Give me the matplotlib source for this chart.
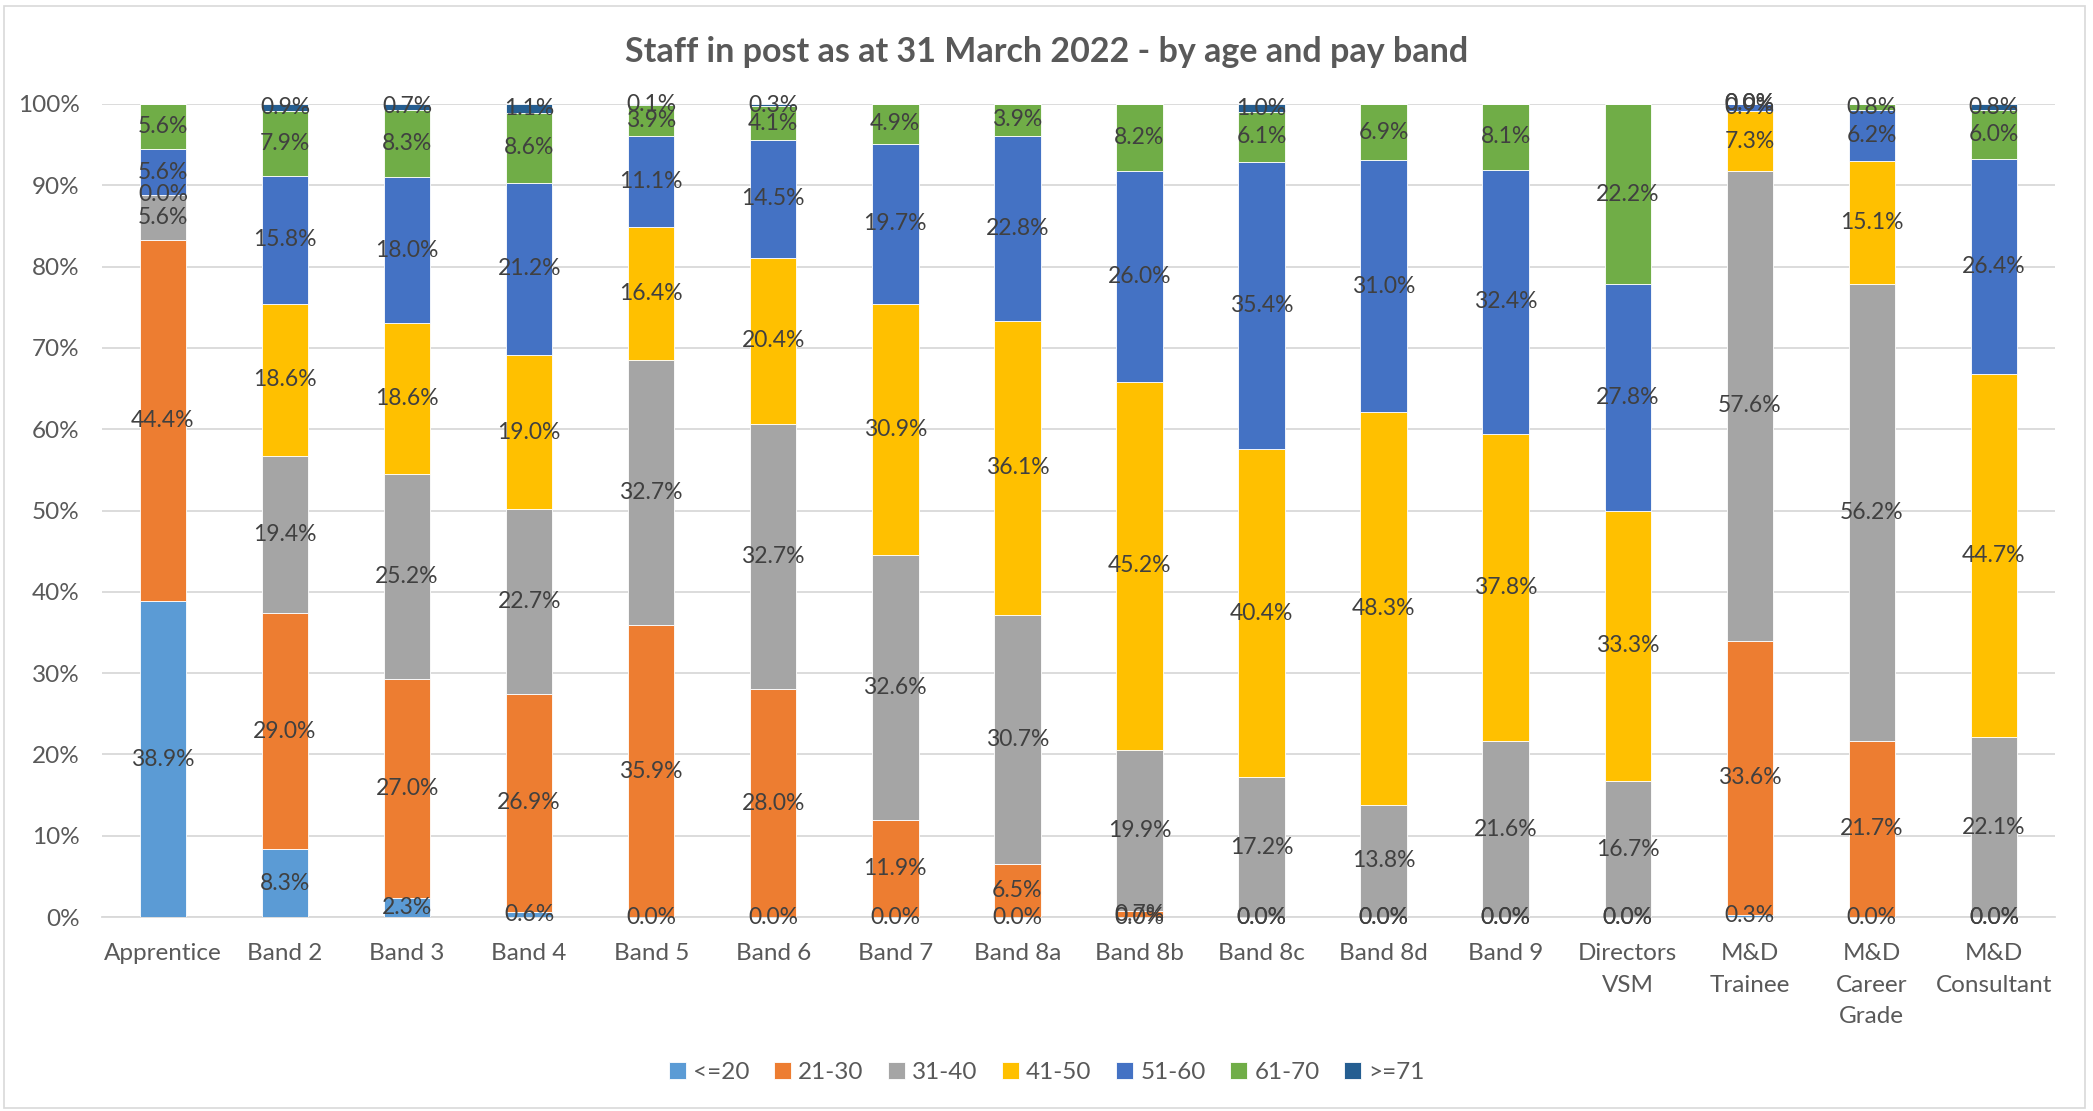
import matplotlib.pyplot as plt
import matplotlib.patches as mpatches
import numpy as np

plt.rcParams['font.family'] = ['Lato', 'DejaVu Sans']

# Pay bands (x axis)
bands = ['Apprentice', 'Band 2', 'Band 3', 'Band 4', 'Band 5', 'Band 6', 'Band 7',
         'Band 8a', 'Band 8b', 'Band 8c', 'Band 8d', 'Band 9', 'Directors\nVSM',
         'M&D\nTrainee', 'M&D\nCareer\nGrade', 'M&D\nConsultant']

# Age groups and their percentages per band (nan = no value shown)
ages = ['<=20', '21-30', '31-40', '41-50', '51-60', '61-70', '>=71']
nan = np.nan
age_le20 = [38.9, 8.3, 2.3, 0.6, 0.0, 0.0, 0.0, 0.0, 0.0, 0.0, 0.0, 0.0, 0.0, 0.3, 0.0, 0.0]
age_21_30 = [44.4, 29.0, 27.0, 26.9, 35.9, 28.0, 11.9, 6.5, 0.7, 0.0, 0.0, 0.0, 0.0, 33.6, 21.7, 0.0]
age_31_40 = [5.6, 19.4, 25.2, 22.7, 32.7, 32.7, 32.6, 30.7, 19.9, 17.2, 13.8, 21.6, 16.7, 57.6, 56.2, 22.1]
age_41_50 = [0.0, 18.6, 18.6, 19.0, 16.4, 20.4, 30.9, 36.1, 45.2, 40.4, 48.3, 37.8, 33.3, 7.3, 15.1, 44.7]
age_51_60 = [5.6, 15.8, 18.0, 21.2, 11.1, 14.5, 19.7, 22.8, 26.0, 35.4, 31.0, 32.4, 27.8, 0.9, 6.2, 26.4]
age_61_70 = [5.6, 7.9, 8.3, 8.6, 3.9, 4.1, 4.9, 3.9, 8.2, 6.1, 6.9, 8.1, 22.2, 0.0, 0.8, 6.0]
age_ge71 = [nan, 0.9, 0.7, 1.1, 0.1, 0.3, nan, nan, nan, 1.0, nan, nan, nan, 0.0, nan, 0.8]

series = [age_le20, age_21_30, age_31_40, age_41_50, age_51_60, age_61_70, age_ge71]
colors = ['#5B9BD5', '#ED7D31', '#A5A5A5', '#FFC000', '#4472C4', '#70AD47', '#255E91']

fig = plt.figure(figsize=(20.93, 11.11), dpi=100)
ax = fig.add_axes([0.0487, 0.1746, 0.9331, 0.7318])

# chart border
fig.patches.append(mpatches.Rectangle((0.002, 0.003), 0.994, 0.992, transform=fig.transFigure,
                                      fill=False, edgecolor='#D9D9D9', linewidth=1.2))

data = np.array(series, dtype=float)
totals = np.nansum(data, axis=0)
x = np.arange(len(bands))
bottom = np.zeros(len(bands))

for vals, age, col in zip(data, ages, colors):
    h = np.nan_to_num(vals) / totals * 100  # 100% stacked, like Excel
    ax.bar(x, h, bottom=bottom, width=0.38, color=col, label=age,
           edgecolor='white', linewidth=0.6, zorder=3)
    for i in range(len(bands)):
        if not np.isnan(vals[i]):
            ax.text(x[i], bottom[i] + h[i] / 2, f'{vals[i]:.1f}%', ha='center', va='center',
                    fontsize=16.5, color='#404040', zorder=4)
    bottom += h

ax.set_xlim(-0.5, len(bands) - 0.5)
ax.set_ylim(0, 100)
ax.set_yticks(np.arange(0, 101, 10))
ax.set_yticklabels([f'{v}%' for v in range(0, 101, 10)])
ax.set_xticks(x)
ax.set_xticklabels(bands, linespacing=1.6)
ax.tick_params(axis='both', length=0, labelsize=17.5, labelcolor='#595959')
ax.tick_params(axis='x', pad=19)
ax.tick_params(axis='y', pad=16)
for t in ax.get_xticklabels():
    t.set_verticalalignment('top')

ax.grid(axis='y', color='#D9D9D9', linewidth=1.3, zorder=0)
for s in ['top', 'right', 'left']:
    ax.spines[s].set_visible(False)
ax.spines['bottom'].set_color('#D9D9D9')
ax.spines['bottom'].set_linewidth(1.3)

fig.text(0.5, 0.953, 'Staff in post as at 31 March 2022 - by age and pay band', ha='center', va='center',
         fontsize=24.5, fontweight='bold', color='#595959')

fig.legend(loc='center', bbox_to_anchor=(0.5, 0.035), ncol=7, frameon=False, fontsize=17.5,
           labelcolor='#595959', handlelength=0.7, handleheight=0.7, handletextpad=0.3,
           columnspacing=1.0)

fig.savefig('out.png', dpi=100)
